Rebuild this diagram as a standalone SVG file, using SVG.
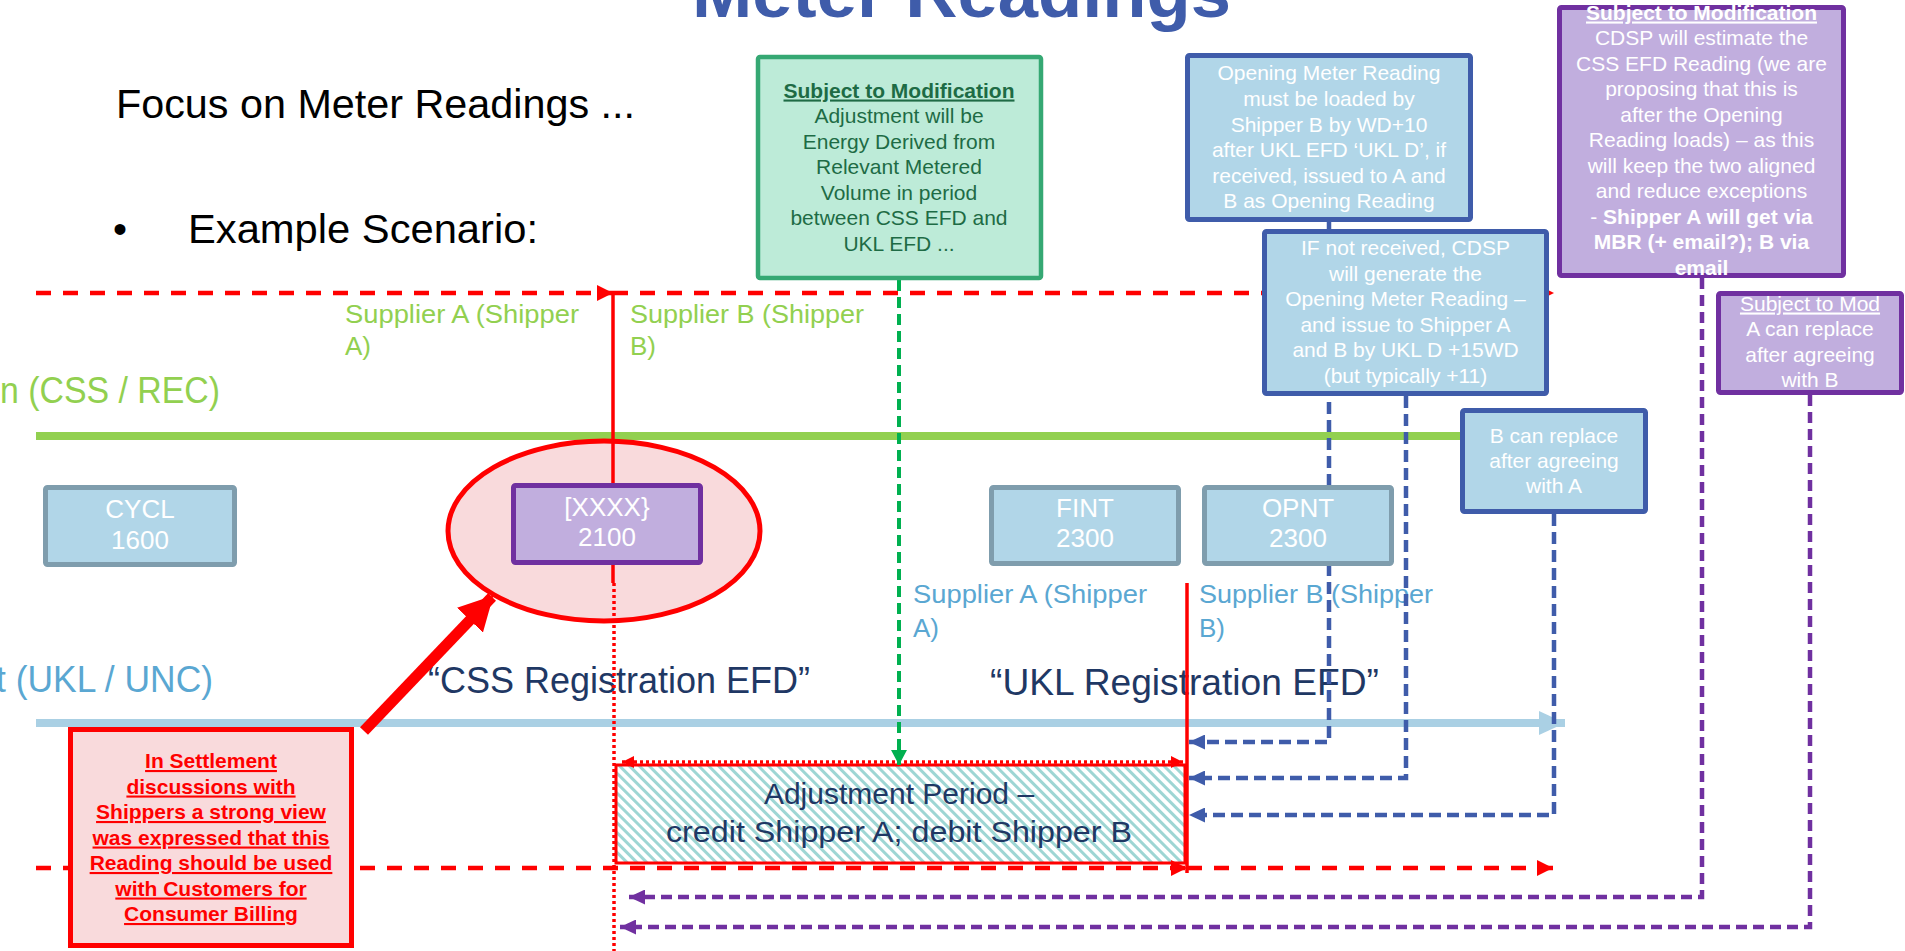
<svg xmlns="http://www.w3.org/2000/svg" width="1905" height="951" viewBox="0 0 1905 951">
<defs>
<style>
text { font-family: "Liberation Sans", Arial, sans-serif; }
.bt { font-size: 21px; fill: #ffffff; text-anchor: middle; }
.gt { font-size: 21px; fill: #1E6B45; text-anchor: middle; }
.rt { font-size: 21px; fill: #FF0000; text-anchor: middle; font-weight: bold; text-decoration: underline; }
.code { font-size: 26px; fill: #ffffff; text-anchor: middle; }
.blue-box { fill: #B1D6E8; stroke: #3F5CAA; stroke-width: 5; }
.grey-box { fill: #B1D6E8; stroke: #7F9DAD; stroke-width: 5; }
.purple-box { fill: #C1AEDE; stroke: #7030A0; stroke-width: 5; }
.dash-blue { fill: none; stroke: #3F5CAA; stroke-width: 4.5; stroke-dasharray: 12 6; }
.dash-purple { fill: none; stroke: #7030A0; stroke-width: 4.5; stroke-dasharray: 11 6; }
.dash-red { fill: none; stroke: #FF0000; stroke-width: 4.5; stroke-dasharray: 15 12; }
.solid-red { fill: none; stroke: #FF0000; stroke-width: 3.5; }
.dot-red { fill: none; stroke: #FF0000; stroke-width: 3.5; stroke-dasharray: 3 3; }
.lbl-green { font-size: 26px; fill: #92D050; }
.lbl-blue { font-size: 26px; fill: #5AA7D2; }
.big { font-size: 36px; fill: #1F3864; }
</style>
<marker id="aRed" markerUnits="userSpaceOnUse" markerWidth="16" markerHeight="16" viewBox="0 0 16 16" refX="16" refY="8" orient="auto"><path d="M0,0 L16,8 L0,16 z" fill="#FF0000"/></marker>
<marker id="aRedS" markerUnits="userSpaceOnUse" markerWidth="12" markerHeight="12" viewBox="0 0 12 12" refX="12" refY="6" orient="auto-start-reverse"><path d="M0,0 L12,6 L0,12 z" fill="#FF0000"/></marker>
<marker id="aBlue" markerUnits="userSpaceOnUse" markerWidth="16" markerHeight="15" viewBox="0 0 16 15" refX="16" refY="7.5" orient="auto"><path d="M0,0 L16,7.5 L0,15 z" fill="#3F5CAA"/></marker>
<marker id="aPurple" markerUnits="userSpaceOnUse" markerWidth="16" markerHeight="15" viewBox="0 0 16 15" refX="16" refY="7.5" orient="auto"><path d="M0,0 L16,7.5 L0,15 z" fill="#7030A0"/></marker>
<marker id="aGreen" markerUnits="userSpaceOnUse" markerWidth="15" markerHeight="16" viewBox="0 0 15 16" refX="15" refY="8" orient="auto"><path d="M0,0 L15,8 L0,16 z" fill="#00B050"/></marker>
<marker id="aLight" markerUnits="userSpaceOnUse" markerWidth="26" markerHeight="24" viewBox="0 0 26 24" refX="26" refY="12" orient="auto"><path d="M0,0 L26,12 L0,24 z" fill="#AAD0E4"/></marker>
<marker id="aBig" markerUnits="userSpaceOnUse" markerWidth="34" markerHeight="36" viewBox="0 0 34 36" refX="32" refY="18" orient="auto"><path d="M0,0 L34,18 L0,36 z" fill="#FF0000"/></marker>
<pattern id="hatch" patternUnits="userSpaceOnUse" width="7" height="7" patternTransform="rotate(-45)">
<rect width="7" height="7" fill="#ffffff"/><rect width="3" height="7" fill="#9ED6D4"/>
</pattern>
</defs>

<rect width="1905" height="951" fill="#ffffff"/>

<!-- title and intro -->
<g id="title">
<text x="692" y="17" font-size="70" font-weight="bold" fill="#3F5CAA" textLength="539" lengthAdjust="spacingAndGlyphs">Meter Readings</text>
<text x="116" y="118" font-size="40" fill="#000" textLength="519" lengthAdjust="spacingAndGlyphs">Focus on Meter Readings ...</text>
<text x="113" y="243" font-size="40" fill="#000">•</text>
<text x="188" y="243" font-size="40" fill="#000" textLength="350" lengthAdjust="spacingAndGlyphs">Example Scenario:</text>
</g>

<!-- timelines -->
<g id="timelines">
<line x1="36" y1="436" x2="1462" y2="436" stroke="#92D050" stroke-width="8"/>
<line x1="36" y1="723" x2="1565" y2="723" stroke="#AAD0E4" stroke-width="8" marker-end="url(#aLight)"/>
</g>

<!-- labels -->
<g id="labels">
<text x="0" y="403" font-size="36" fill="#92D050" textLength="220" lengthAdjust="spacingAndGlyphs">n (CSS / REC)</text>
<text x="-4" y="692" font-size="36" fill="#5AA7D2" textLength="217" lengthAdjust="spacingAndGlyphs">t (UKL / UNC)</text>
<text class="lbl-green" x="345" y="323" textLength="234" lengthAdjust="spacingAndGlyphs">Supplier A (Shipper</text>
<text class="lbl-green" x="345" y="355">A)</text>
<text class="lbl-green" x="630" y="323" textLength="234" lengthAdjust="spacingAndGlyphs">Supplier B (Shipper</text>
<text class="lbl-green" x="630" y="355">B)</text>
<text class="lbl-blue" x="913" y="603" textLength="234" lengthAdjust="spacingAndGlyphs">Supplier A (Shipper</text>
<text class="lbl-blue" x="913" y="637">A)</text>
<text class="lbl-blue" x="1199" y="603" textLength="234" lengthAdjust="spacingAndGlyphs">Supplier B (Shipper</text>
<text class="lbl-blue" x="1199" y="637">B)</text>
<text class="big" x="428" y="693" textLength="382" lengthAdjust="spacingAndGlyphs">“CSS Registration EFD”</text>
<text class="big" x="990" y="695" textLength="389" lengthAdjust="spacingAndGlyphs">“UKL Registration EFD”</text>
</g>

<!-- highlight ellipse -->
<g id="highlight">
<ellipse cx="604" cy="531" rx="156" ry="90" fill="#F9DADC" stroke="#FF0000" stroke-width="5"/>
</g>

<!-- adjustment period -->
<g id="adjustment-period">
<rect x="616" y="765" width="569" height="98" fill="url(#hatch)" stroke="#FF0000" stroke-width="3"/>
<text x="899" y="804" font-size="30" fill="#1F3864" text-anchor="middle">Adjustment Period –</text>
<text x="899" y="842" font-size="30" fill="#1F3864" text-anchor="middle" textLength="466" lengthAdjust="spacingAndGlyphs">credit Shipper A; debit Shipper B</text>
</g>

<!-- connectors -->
<g id="connectors">
<line class="dash-red" x1="36" y1="293" x2="613" y2="293" marker-end="url(#aRed)"/>
<line class="dash-red" x1="613" y1="293" x2="1554" y2="293" marker-end="url(#aRed)"/>
<line class="solid-red" x1="613" y1="293" x2="613" y2="485"/>
<line class="solid-red" x1="613" y1="563" x2="613" y2="583"/>
<line class="dot-red" x1="614" y1="583" x2="614" y2="951"/>
<line class="dash-red" x1="36" y1="868" x2="1187" y2="868" marker-end="url(#aRed)"/>
<line class="dash-red" x1="1187" y1="868" x2="1553" y2="868" marker-end="url(#aRed)"/>
<line class="solid-red" x1="1187" y1="583" x2="1187" y2="873"/>
<line class="dot-red" x1="622" y1="762" x2="1183" y2="762" stroke-width="4" marker-start="url(#aRedS)" marker-end="url(#aRedS)"/>
<line x1="899" y1="280" x2="899" y2="765" stroke="#00B050" stroke-width="4" stroke-dasharray="11 6" marker-end="url(#aGreen)"/>
<polyline class="dash-blue" points="1329,222 1329,742 1189,742" marker-end="url(#aBlue)"/>
<polyline class="dash-blue" points="1406,396 1406,778 1189,778" marker-end="url(#aBlue)"/>
<polyline class="dash-blue" points="1554,514 1554,815 1189,815" marker-end="url(#aBlue)"/>
<polyline class="dash-purple" points="1702,278 1702,897 629,897" marker-end="url(#aPurple)"/>
<polyline class="dash-purple" points="1810,395 1810,927 620,927" marker-end="url(#aPurple)"/>
<line x1="364" y1="731" x2="492" y2="597" stroke="#FF0000" stroke-width="11" marker-end="url(#aBig)"/>
</g>

<!-- nodes -->
<g id="node-green-note">
<rect x="758" y="57" width="283" height="221" rx="2" fill="#BDEBD8" stroke="#35A873" stroke-width="4.5"/>
<text class="gt" x="899" y="97.5" font-weight="bold" text-decoration="underline">Subject to Modification</text>
<text class="gt" x="899" y="123">Adjustment will be</text>
<text class="gt" x="899" y="148.5">Energy Derived from</text>
<text class="gt" x="899" y="174">Relevant Metered</text>
<text class="gt" x="899" y="199.5">Volume in period</text>
<text class="gt" x="899" y="225">between CSS EFD and</text>
<text class="gt" x="899" y="250.5">UKL EFD ...</text>
</g>

<g id="node-opening-reading">
<rect class="blue-box" x="1187.5" y="55.5" width="283" height="164" rx="2"/>
<text class="bt" x="1329" y="80">Opening Meter Reading</text>
<text class="bt" x="1329" y="106">must be loaded by</text>
<text class="bt" x="1329" y="132">Shipper B by WD+10</text>
<text class="bt" x="1329" y="157">after UKL EFD ‘UKL D’, if</text>
<text class="bt" x="1329" y="183">received, issued to A and</text>
<text class="bt" x="1329" y="208">B as Opening Reading</text>
</g>

<g id="node-cdsp-generate">
<rect class="blue-box" x="1264.5" y="231.5" width="282" height="162" rx="2"/>
<text class="bt" x="1405.5" y="255">IF not received, CDSP</text>
<text class="bt" x="1405.5" y="281">will generate the</text>
<text class="bt" x="1405.5" y="306">Opening Meter Reading –</text>
<text class="bt" x="1405.5" y="332">and issue to Shipper A</text>
<text class="bt" x="1405.5" y="357">and B by UKL D +15WD</text>
<text class="bt" x="1405.5" y="383">(but typically +11)</text>
</g>

<g id="node-b-replace">
<rect class="blue-box" x="1462.5" y="410.5" width="183" height="101" rx="2"/>
<text class="bt" x="1554" y="443">B can replace</text>
<text class="bt" x="1554" y="468">after agreeing</text>
<text class="bt" x="1554" y="493">with A</text>
</g>

<g id="node-cdsp-estimate">
<rect class="purple-box" x="1559.5" y="7.5" width="284" height="268" rx="2"/>
<text class="bt" x="1701.5" y="19.5" font-weight="bold" text-decoration="underline">Subject to Modification</text>
<text class="bt" x="1701.5" y="45">CDSP will estimate the</text>
<text class="bt" x="1701.5" y="70.5">CSS EFD Reading (we are</text>
<text class="bt" x="1701.5" y="96">proposing that this is</text>
<text class="bt" x="1701.5" y="121.5">after the Opening</text>
<text class="bt" x="1701.5" y="147">Reading loads) – as this</text>
<text class="bt" x="1701.5" y="172.5">will keep the two aligned</text>
<text class="bt" x="1701.5" y="198">and reduce exceptions</text>
<text class="bt" x="1701.5" y="223.5">- <tspan font-weight="bold">Shipper A will get via</tspan></text>
<text class="bt" x="1701.5" y="249" font-weight="bold">MBR (+ email?); B via</text>
<text class="bt" x="1701.5" y="274.5" font-weight="bold">email</text>
</g>

<g id="node-a-replace">
<rect class="purple-box" x="1718.5" y="293.5" width="183" height="99" rx="2"/>
<text class="bt" x="1810" y="310.5" text-decoration="underline">Subject to Mod</text>
<text class="bt" x="1810" y="336">A can replace</text>
<text class="bt" x="1810" y="361.5">after agreeing</text>
<text class="bt" x="1810" y="387">with B</text>
</g>

<g id="node-cycl">
<rect class="grey-box" x="45.5" y="487.5" width="189" height="77" rx="2"/>
<text class="code" x="140" y="518">CYCL</text>
<text class="code" x="140" y="549">1600</text>
</g>

<g id="node-xxxx">
<rect class="purple-box" x="513.5" y="485.5" width="187" height="77" rx="2"/>
<text class="code" x="607" y="516">[XXXX}</text>
<text class="code" x="607" y="546">2100</text>
</g>

<g id="node-fint">
<rect class="grey-box" x="991.5" y="487.5" width="187" height="76" rx="2"/>
<text class="code" x="1085" y="517">FINT</text>
<text class="code" x="1085" y="547">2300</text>
</g>

<g id="node-opnt">
<rect class="grey-box" x="1204.5" y="487.5" width="187" height="76" rx="2"/>
<text class="code" x="1298" y="517">OPNT</text>
<text class="code" x="1298" y="547">2300</text>
</g>

<g id="node-settlement-note">
<rect x="70.5" y="729.5" width="281" height="216" fill="#F9DADC" stroke="#FF0000" stroke-width="5"/>
<text class="rt" x="211" y="768">In Settlement</text>
<text class="rt" x="211" y="793.5">discussions with</text>
<text class="rt" x="211" y="819">Shippers a strong view</text>
<text class="rt" x="211" y="844.5">was expressed that this</text>
<text class="rt" x="211" y="870">Reading should be used</text>
<text class="rt" x="211" y="895.5">with Customers for</text>
<text class="rt" x="211" y="921">Consumer Billing</text>
</g>
</svg>
